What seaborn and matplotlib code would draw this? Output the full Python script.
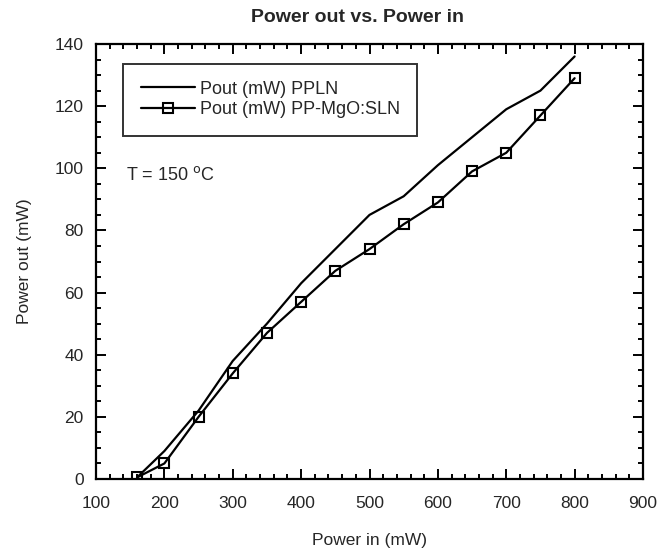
import numpy as np
import pandas as pd
import matplotlib
matplotlib.use("Agg")
import matplotlib.pyplot as plt
from matplotlib.ticker import MultipleLocator
import seaborn as sns

# Power in (mW)
pin_ppln = [160, 200, 250, 300, 350, 400, 450, 500, 550, 600, 650, 700, 750, 800]
pout_ppln = [0.5, 9, 22, 38, 50, 63, 74, 85, 91, 101, 110, 119, 125, 136]

pin_sln = [160, 200, 250, 300, 350, 400, 450, 500, 550, 600, 650, 700, 750, 800]
pout_sln = [0.5, 5, 20, 34, 47, 57, 67, 74, 82, 89, 99, 105, 117, 129]

sns.set_style("ticks")
plt.rcParams["font.family"] = ["Liberation Sans", "DejaVu Sans"]

fig, ax = plt.subplots(figsize=(6.59, 5.58), dpi=100)
fig.subplots_adjust(left=0.1457, right=0.9757, top=0.9211, bottom=0.1416)

sns.lineplot(x=pin_ppln, y=pout_ppln, ax=ax, color="black", linewidth=1.6,
             label="Pout (mW) PPLN")
sns.lineplot(x=pin_sln, y=pout_sln, ax=ax, color="black", linewidth=1.6,
             marker="s", markersize=7, markerfacecolor="none",
             markeredgecolor="black", markeredgewidth=1.5,
             label="Pout (mW) PP-MgO:SLN")

ax.set_xlim(100, 900)
ax.set_ylim(0, 140)
ax.xaxis.set_major_locator(MultipleLocator(100))
ax.xaxis.set_minor_locator(MultipleLocator(20))
ax.yaxis.set_major_locator(MultipleLocator(20))
ax.yaxis.set_minor_locator(MultipleLocator(5))
ax.tick_params(which="both", direction="in", top=True, right=True, color="black", width=1.4)
ax.tick_params(which="major", length=7, labelsize=12.5)
ax.tick_params(axis="x", which="major", pad=12)
ax.tick_params(axis="y", which="major", pad=9)
ax.tick_params(which="minor", length=3.5)
for s in ax.spines.values():
    s.set_linewidth(1.6)
    s.set_color("black")

ax.set_xlabel("Power in (mW)", fontsize=12.5, labelpad=16)
ax.set_ylabel("Power out (mW)", fontsize=12.5, labelpad=16)
ax.set_title("Power out vs. Power in", fontsize=14, fontweight="bold", pad=16, x=0.478)

ax.text(0.055, 0.70, "T = 150 $^{\\rm o}$C", transform=ax.transAxes, fontsize=13,
        va="center", ha="left")

leg = ax.legend(loc="upper left", bbox_to_anchor=(0.05, 0.955), fontsize=13,
                frameon=True, fancybox=False, handlelength=3.0, borderpad=0.95,
                labelspacing=0.2, handletextpad=0.3, borderaxespad=0)
leg.get_frame().set_edgecolor("black")
leg.get_frame().set_linewidth(1.4)

fig.savefig("out.png", dpi=100)
